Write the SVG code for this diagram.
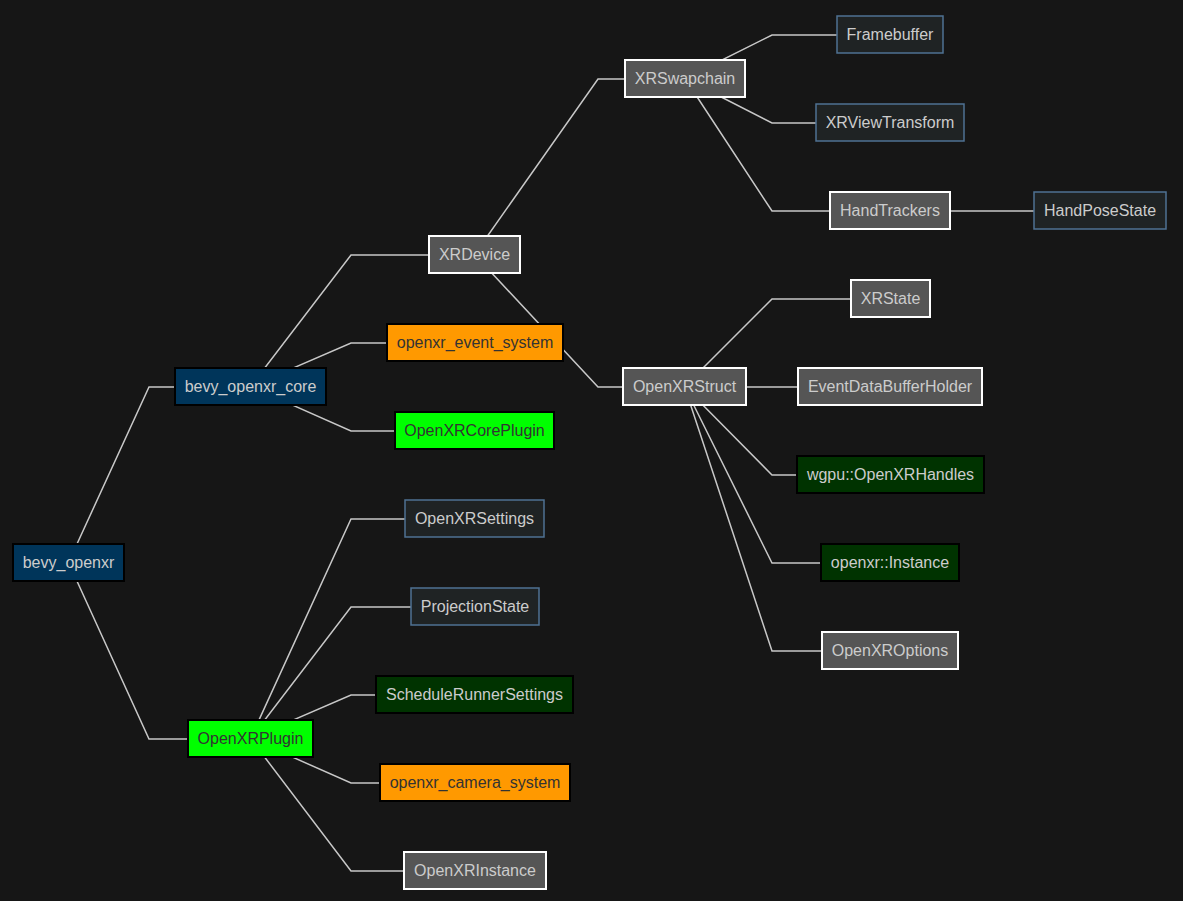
<svg xmlns="http://www.w3.org/2000/svg" width="1183" height="901" viewBox="0 0 1183 901">
<style>
text{font-family:"Liberation Sans",Arial,sans-serif;font-size:16px;text-anchor:middle;dominant-baseline:central;fill:#cccccc}
.blue rect{fill:#00355a;stroke:#000;stroke-width:2}
.gray rect{fill:#555555;stroke:#ffffff;stroke-width:2}
.orange rect{fill:#ff9900;stroke:#000;stroke-width:2}
.orange text,.green text{fill:#333333}
.green rect{fill:#00ff00;stroke:#000;stroke-width:2}
.dgreen rect{fill:#003300;stroke:#000;stroke-width:2}
.steel rect{fill:#1f2324;stroke:#4f7293;stroke-width:1.5}
#edges polyline{fill:none;stroke:#c8c8c8;stroke-width:1.5}
</style>
<rect width="1183" height="901" fill="#161616"/>
<g id="edges">
<polyline points="68.5,562.5 149,387 175,387"/>
<polyline points="68.5,562.5 149,739 188,739"/>
<polyline points="250.5,386.5 351,255 429,255"/>
<polyline points="250.5,386.5 351,343 387,343"/>
<polyline points="250.5,386.5 351,431 395,431"/>
<polyline points="474.5,254.5 598,79 625,79"/>
<polyline points="474.5,254.5 598,387 623,387"/>
<polyline points="685,78.5 772,35 837,35"/>
<polyline points="685,78.5 772,123 816,123"/>
<polyline points="685,78.5 772,211 830,211"/>
<polyline points="890,211 1034,211"/>
<polyline points="684.5,386.5 772,299 851,299"/>
<polyline points="684.5,387 798,387"/>
<polyline points="684.5,386.5 772,475 797,475"/>
<polyline points="684.5,386.5 772,563 821,563"/>
<polyline points="684.5,386.5 772,651 822,651"/>
<polyline points="250.5,738.5 351,519 405,519"/>
<polyline points="250.5,738.5 351,607 411,607"/>
<polyline points="250.5,738.5 351,695 376,695"/>
<polyline points="250.5,738.5 351,783 380,783"/>
<polyline points="250.5,738.5 351,871 404,871"/>
</g>
<g id="bevy_openxr" class="blue"><rect x="13" y="544" width="111" height="37"/><text x="68.5" y="562.5">bevy_openxr</text></g>
<g id="bevy_openxr_core" class="blue"><rect x="175" y="368" width="151" height="37"/><text x="250.5" y="386.5">bevy_openxr_core</text></g>
<g id="OpenXRPlugin" class="green"><rect x="188" y="720" width="125" height="37"/><text x="250.5" y="738.5">OpenXRPlugin</text></g>
<g id="XRDevice" class="gray"><rect x="429" y="236" width="91" height="37"/><text x="474.5" y="254.5">XRDevice</text></g>
<g id="openxr_event_system" class="orange"><rect x="387" y="324" width="176" height="37"/><text x="475" y="342.5">openxr_event_system</text></g>
<g id="OpenXRCorePlugin" class="green"><rect x="395" y="412" width="159" height="37"/><text x="474.5" y="430.5">OpenXRCorePlugin</text></g>
<g id="OpenXRSettings" class="steel"><rect x="405" y="500" width="139" height="37"/><text x="474.5" y="518.5">OpenXRSettings</text></g>
<g id="ProjectionState" class="steel"><rect x="411" y="588" width="128" height="37"/><text x="475" y="606.5">ProjectionState</text></g>
<g id="ScheduleRunnerSettings" class="dgreen"><rect x="376" y="676" width="197" height="37"/><text x="474.5" y="694.5">ScheduleRunnerSettings</text></g>
<g id="openxr_camera_system" class="orange"><rect x="380" y="764" width="190" height="37"/><text x="475" y="782.5">openxr_camera_system</text></g>
<g id="OpenXRInstance" class="gray"><rect x="404" y="852" width="142" height="37"/><text x="475" y="870.5">OpenXRInstance</text></g>
<g id="XRSwapchain" class="gray"><rect x="625" y="60" width="120" height="37"/><text x="685" y="78.5">XRSwapchain</text></g>
<g id="OpenXRStruct" class="gray"><rect x="623" y="368" width="123" height="37"/><text x="684.5" y="386.5">OpenXRStruct</text></g>
<g id="Framebuffer" class="steel"><rect x="837" y="16" width="106" height="37"/><text x="890" y="34.5">Framebuffer</text></g>
<g id="XRViewTransform" class="steel"><rect x="816" y="104" width="148" height="37"/><text x="890" y="122.5">XRViewTransform</text></g>
<g id="HandTrackers" class="gray"><rect x="830" y="192" width="120" height="37"/><text x="890" y="210.5">HandTrackers</text></g>
<g id="HandPoseState" class="steel"><rect x="1034" y="192" width="132" height="37"/><text x="1100" y="210.5">HandPoseState</text></g>
<g id="XRState" class="gray"><rect x="851" y="280" width="79" height="37"/><text x="890.5" y="298.5">XRState</text></g>
<g id="EventDataBufferHolder" class="gray"><rect x="798" y="368" width="184" height="37"/><text x="890" y="386.5">EventDataBufferHolder</text></g>
<g id="wgpu_OpenXRHandles" class="dgreen"><rect x="797" y="456" width="187" height="37"/><text x="890.5" y="474.5">wgpu::OpenXRHandles</text></g>
<g id="openxr_Instance" class="dgreen"><rect x="821" y="544" width="138" height="37"/><text x="890" y="562.5">openxr::Instance</text></g>
<g id="OpenXROptions" class="gray"><rect x="822" y="632" width="136" height="37"/><text x="890" y="650.5">OpenXROptions</text></g>
</svg>
